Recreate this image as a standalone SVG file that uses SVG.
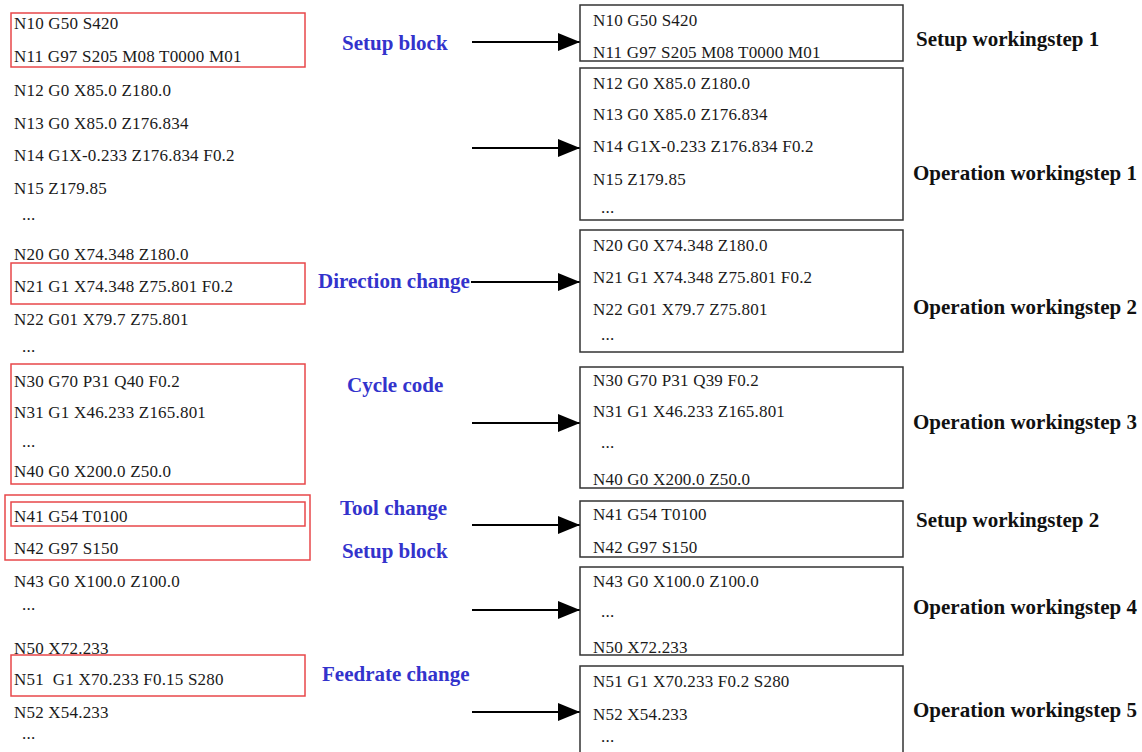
<svg xmlns="http://www.w3.org/2000/svg" width="1142" height="752" viewBox="0 0 1142 752">
  <style>
    .code { font-family: "Liberation Serif", "Times New Roman", serif; font-size: 17px; letter-spacing: 0.2px; fill: #1a1a1a; }
    .tag { font-family: "Liberation Serif", "Times New Roman", serif; font-size: 21px; font-weight: bold; fill: #3333cc; }
    .step { font-family: "Liberation Serif", "Times New Roman", serif; font-size: 21px; font-weight: bold; fill: #111; }
    .mark { fill: none; stroke: #e8474a; stroke-width: 1.5; }
    .box { fill: #fff; stroke: #333; stroke-width: 1.5; }
    .conn { stroke: #000; stroke-width: 2.2; fill: none; marker-end: url(#head); }
  </style>
  <defs>
    <marker id="head" markerUnits="userSpaceOnUse" markerWidth="22" markerHeight="18" refX="22" refY="9" orient="auto">
      <path d="M0,0 L22,9 L0,18 Z" fill="#000"/>
    </marker>
  </defs>
  <rect width="1142" height="752" fill="#fff"/>

  <!-- source program listing -->
  <g id="program">
    <text class="code" x="14" y="29">N10 G50 S420</text>
    <text class="code" x="14" y="62">N11 G97 S205 M08 T0000 M01</text>
    <text class="code" x="14" y="96">N12 G0 X85.0 Z180.0</text>
    <text class="code" x="14" y="129">N13 G0 X85.0 Z176.834</text>
    <text class="code" x="14" y="161">N14 G1X-0.233 Z176.834 F0.2</text>
    <text class="code" x="14" y="194">N15 Z179.85</text>
    <text class="code" x="22" y="220">...</text>
    <text class="code" x="14" y="260">N20 G0 X74.348 Z180.0</text>
    <text class="code" x="14" y="292">N21 G1 X74.348 Z75.801 F0.2</text>
    <text class="code" x="14" y="325">N22 G01 X79.7 Z75.801</text>
    <text class="code" x="22" y="352">...</text>
    <text class="code" x="14" y="387">N30 G70 P31 Q40 F0.2</text>
    <text class="code" x="14" y="418">N31 G1 X46.233 Z165.801</text>
    <text class="code" x="22" y="447">...</text>
    <text class="code" x="14" y="477">N40 G0 X200.0 Z50.0</text>
    <text class="code" x="14" y="522">N41 G54 T0100</text>
    <text class="code" x="14" y="554">N42 G97 S150</text>
    <text class="code" x="14" y="587">N43 G0 X100.0 Z100.0</text>
    <text class="code" x="22" y="610">...</text>
    <text class="code" x="14" y="654">N50 X72.233</text>
    <text class="code" x="14" y="685" xml:space="preserve">N51  G1 X70.233 F0.15 S280</text>
    <text class="code" x="14" y="718">N52 X54.233</text>
    <text class="code" x="22" y="739">...</text>
  </g>

  <!-- highlighted trigger blocks -->
  <g id="marks">
    <rect class="mark" x="11" y="13" width="294" height="54"/>
    <rect class="mark" x="11" y="263" width="294" height="41"/>
    <rect class="mark" x="11" y="364" width="294" height="120"/>
    <rect class="mark" x="5" y="495" width="305" height="65"/>
    <rect class="mark" x="11" y="502" width="294" height="24"/>
    <rect class="mark" x="11" y="655" width="294" height="41"/>
  </g>

  <!-- trigger labels -->
  <g id="tags">
    <text class="tag" x="342" y="50">Setup block</text>
    <text class="tag" x="318" y="288">Direction change</text>
    <text class="tag" x="347" y="392">Cycle code</text>
    <text class="tag" x="340" y="515">Tool change</text>
    <text class="tag" x="342" y="558">Setup block</text>
    <text class="tag" x="322" y="681">Feedrate change</text>
  </g>

  <!-- connectors -->
  <g id="connectors">
    <line class="conn" x1="472" y1="42" x2="580" y2="42"/>
    <line class="conn" x1="472" y1="148" x2="580" y2="148"/>
    <line class="conn" x1="471" y1="282" x2="580" y2="282"/>
    <line class="conn" x1="472" y1="423" x2="580" y2="423"/>
    <line class="conn" x1="472" y1="525" x2="580" y2="525"/>
    <line class="conn" x1="472" y1="610" x2="580" y2="610"/>
    <line class="conn" x1="472" y1="712" x2="580" y2="712"/>
  </g>

  <!-- workingstep blocks -->
  <g id="ws-setup-1">
    <rect class="box" x="580" y="5" width="323" height="56"/>
    <text class="code" x="593" y="26">N10 G50 S420</text>
    <text class="code" x="593" y="58">N11 G97 S205 M08 T0000 M01</text>
    <text class="step" x="916" y="46">Setup workingstep 1</text>
  </g>
  <g id="ws-op-1">
    <rect class="box" x="580" y="68" width="323" height="152"/>
    <text class="code" x="593" y="89">N12 G0 X85.0 Z180.0</text>
    <text class="code" x="593" y="120">N13 G0 X85.0 Z176.834</text>
    <text class="code" x="593" y="152">N14 G1X-0.233 Z176.834 F0.2</text>
    <text class="code" x="593" y="185">N15 Z179.85</text>
    <text class="code" x="601" y="213">...</text>
    <text class="step" x="913" y="180">Operation workingstep 1</text>
  </g>
  <g id="ws-op-2">
    <rect class="box" x="580" y="230" width="323" height="122"/>
    <text class="code" x="593" y="251">N20 G0 X74.348 Z180.0</text>
    <text class="code" x="593" y="283">N21 G1 X74.348 Z75.801 F0.2</text>
    <text class="code" x="593" y="315">N22 G01 X79.7 Z75.801</text>
    <text class="code" x="601" y="340">...</text>
    <text class="step" x="913" y="314">Operation workingstep 2</text>
  </g>
  <g id="ws-op-3">
    <rect class="box" x="580" y="367" width="323" height="121"/>
    <text class="code" x="593" y="386">N30 G70 P31 Q39 F0.2</text>
    <text class="code" x="593" y="417">N31 G1 X46.233 Z165.801</text>
    <text class="code" x="601" y="448">...</text>
    <text class="code" x="593" y="485">N40 G0 X200.0 Z50.0</text>
    <text class="step" x="913" y="429">Operation workingstep 3</text>
  </g>
  <g id="ws-setup-2">
    <rect class="box" x="580" y="501" width="323" height="56"/>
    <text class="code" x="593" y="520">N41 G54 T0100</text>
    <text class="code" x="593" y="553">N42 G97 S150</text>
    <text class="step" x="916" y="527">Setup workingstep 2</text>
  </g>
  <g id="ws-op-4">
    <rect class="box" x="580" y="567" width="323" height="88"/>
    <text class="code" x="593" y="587">N43 G0 X100.0 Z100.0</text>
    <text class="code" x="601" y="617">...</text>
    <text class="code" x="593" y="653">N50 X72.233</text>
    <text class="step" x="913" y="614">Operation workingstep 4</text>
  </g>
  <g id="ws-op-5">
    <rect class="box" x="580" y="666" width="323" height="100"/>
    <text class="code" x="593" y="687">N51 G1 X70.233 F0.2 S280</text>
    <text class="code" x="593" y="720">N52 X54.233</text>
    <text class="code" x="601" y="742">...</text>
    <text class="step" x="913" y="717">Operation workingstep 5</text>
  </g>
</svg>
